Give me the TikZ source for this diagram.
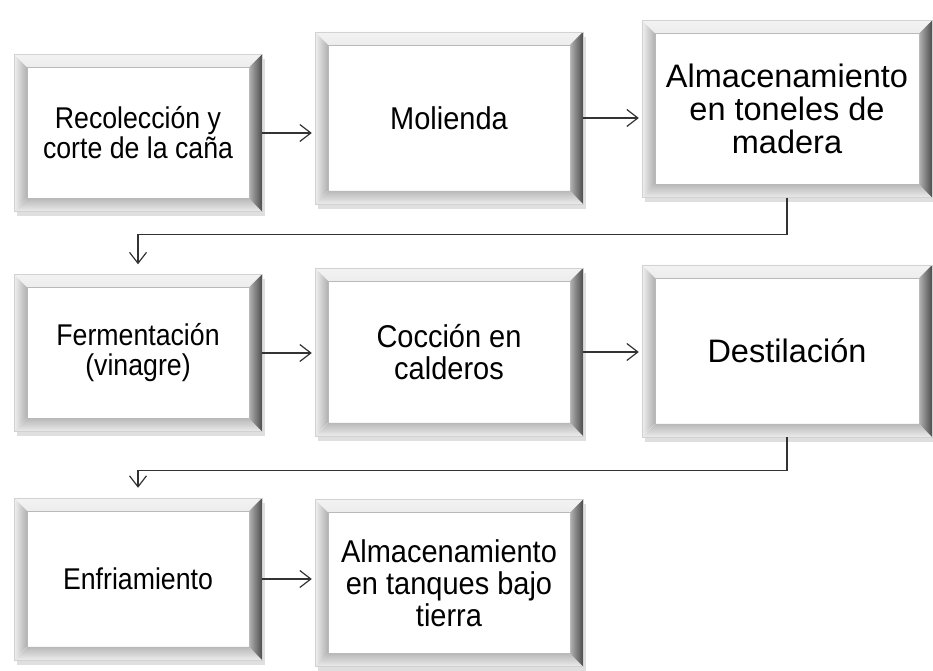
\documentclass[tikz,border=0pt]{standalone}
\usepackage{fontspec}
\setmainfont{Liberation Sans}
\newfontfamily\narrowA[FakeStretch=0.89]{Liberation Sans}
\newfontfamily\narrowB[FakeStretch=0.92]{Liberation Sans}
\usetikzlibrary{arrows.meta,shadows}

\begin{document}
\begin{tikzpicture}[x=1pt,y=1pt,
  stage/.style={draw=gray!35, line width=0.4pt, fill=white, inner sep=0pt, align=center,
    drop shadow={shadow xshift=3pt,shadow yshift=-5pt,opacity=0.25,fill=gray},
    path picture={
      % top bevel
      \fill[top color=gray!10,bottom color=gray!65]
        (path picture bounding box.north west) -- (path picture bounding box.north east)
        -- ([xshift=-13pt,yshift=-13pt]path picture bounding box.north east)
        -- ([xshift=13pt,yshift=-13pt]path picture bounding box.north west) -- cycle;
      % left bevel
      \fill[left color=gray!12,right color=gray!62]
        (path picture bounding box.north west) -- (path picture bounding box.south west)
        -- ([xshift=13pt,yshift=13pt]path picture bounding box.south west)
        -- ([xshift=13pt,yshift=-13pt]path picture bounding box.north west) -- cycle;
      % bottom bevel
      \fill[top color=gray!55,bottom color=gray!15]
        (path picture bounding box.south west) -- (path picture bounding box.south east)
        -- ([xshift=-13pt,yshift=13pt]path picture bounding box.south east)
        -- ([xshift=13pt,yshift=13pt]path picture bounding box.south west) -- cycle;
      % right bevel
      \fill[left color=gray!60,right color=black!70]
        (path picture bounding box.north east) -- (path picture bounding box.south east)
        -- ([xshift=-13pt,yshift=13pt]path picture bounding box.south east)
        -- ([xshift=-13pt,yshift=-13pt]path picture bounding box.north east) -- cycle;
      \draw[gray!55, line width=0.6pt]
        ([xshift=13pt,yshift=-13pt]path picture bounding box.north west)
        rectangle ([xshift=-13pt,yshift=13pt]path picture bounding box.south east);
    }},
  colA/.style={stage, minimum width=248pt, font=\narrowA\fontsize{30}{30}\selectfont},
  colB/.style={stage, minimum width=268pt, font=\narrowB\fontsize{31.5}{32}\selectfont},
  colC/.style={stage, minimum width=290pt, font=\fontsize{32.5}{33}\selectfont},
  flow/.style={draw=black!80, line width=1.2pt, shorten >=3pt,
    -{Straight Barb[length=11pt,width=17pt,line width=1.2pt]}},
]
\useasboundingbox (0,0) rectangle (933,671);

% first row
\node[colA, minimum height=157pt] (recol) at (138,538) {Recolección y\\corte de la caña};
\node[colB, minimum height=172pt] (molienda) at (449,553) {Molienda};
\node[colC, minimum height=177pt] (toneles) at (787,562) {Almacenamiento\\en toneles de\\madera};

% second row
\node[colA, minimum height=157pt] (ferment) at (138,318) {Fermentación\\(vinagre)};
\node[colB, minimum height=168pt] (coccion) at (449,319) {Cocción en\\calderos};
\node[colC, minimum height=172pt] (destila) at (787,320) {Destilación};

% third row
\node[colA, minimum height=162pt] (enfria) at (138,92) {Enfriamiento};
\node[colB, minimum height=167pt] (tanques) at (449,88) {Almacenamiento\\en tanques bajo\\tierra};

\draw[flow] (recol.east) -- (recol.east -| molienda.west);
\draw[flow] (molienda.east) -- (molienda.east -| toneles.west);
\draw[flow, shorten >=10pt] (toneles.south) -- ++(0,-37) -| (ferment.north);
\draw[flow] (ferment.east) -- (ferment.east -| coccion.west);
\draw[flow] (coccion.east) -- (coccion.east -| destila.west);
\draw[flow, shorten >=10pt] (destila.south) -- ++(0,-33) -| (enfria.north);
\draw[flow] (enfria.east) -- (enfria.east -| tanques.west);
\end{tikzpicture}
\end{document}
